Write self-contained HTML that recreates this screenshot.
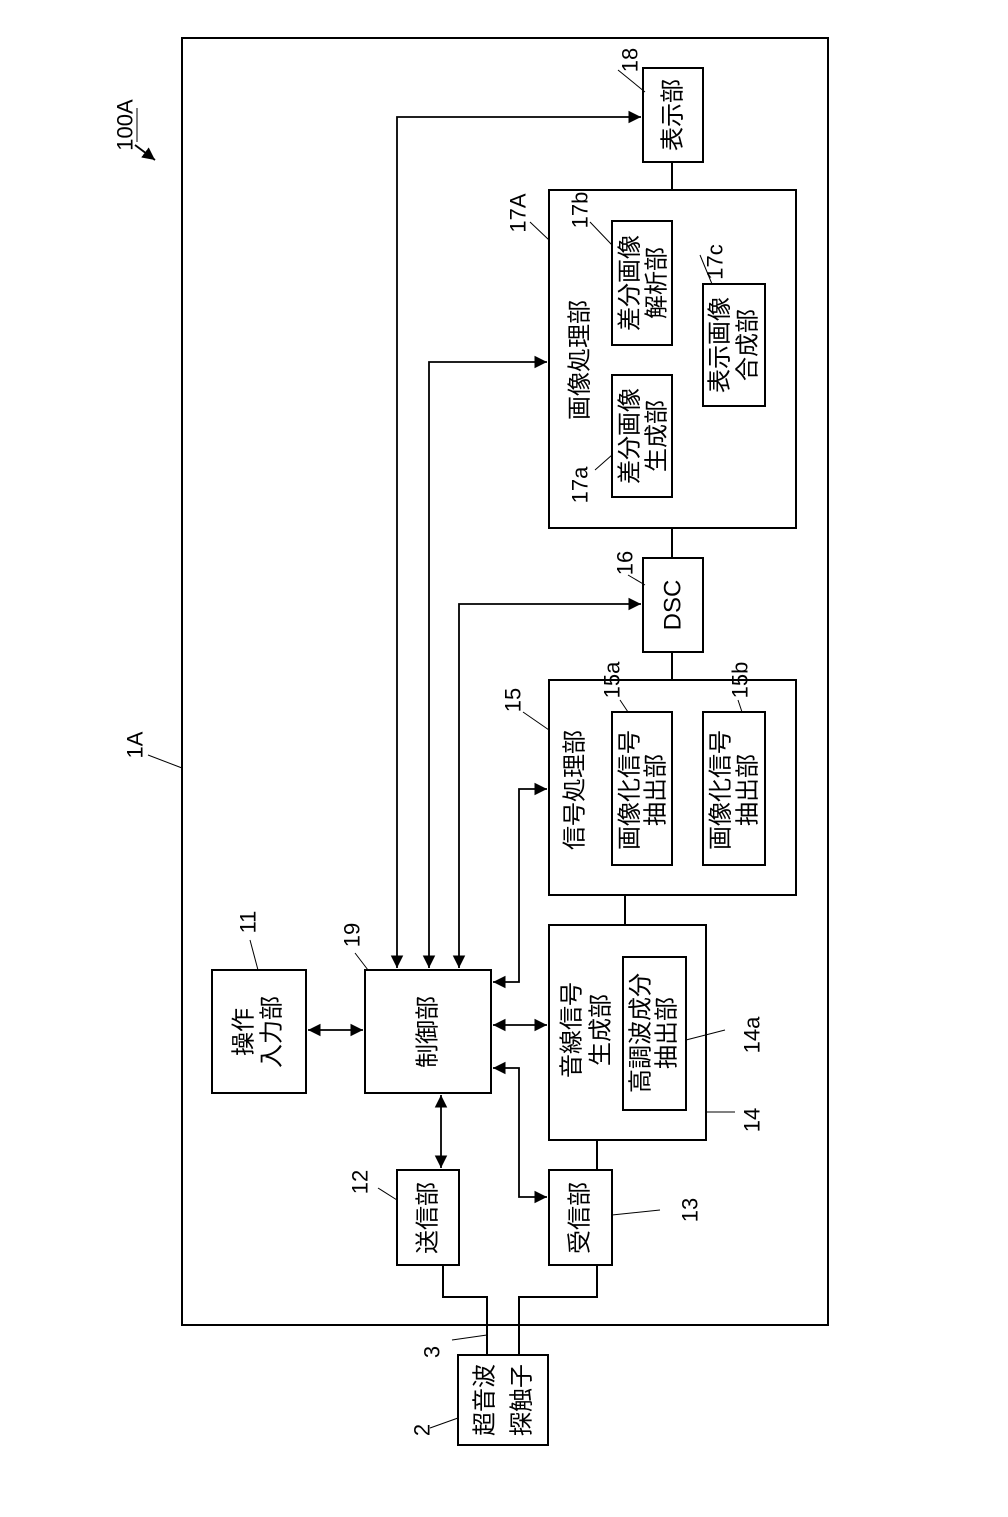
<!DOCTYPE html>
<html><head><meta charset="utf-8"><style>
html,body{margin:0;padding:0;background:#fff}
svg text{font-family:"Liberation Sans","Noto Sans CJK JP",sans-serif;fill:#000}
</style></head><body>
<svg width="1008" height="1512" viewBox="0 0 1008 1512" xmlns="http://www.w3.org/2000/svg">
<defs>
<marker id="a" viewBox="0 0 10 10" refX="10" refY="5" markerWidth="7" markerHeight="7" orient="auto-start-reverse"><path d="M0,0L10,5L0,10z" fill="#000"/></marker>
</defs>
<g fill="none" stroke="#000" stroke-width="2">
<rect x="182" y="38" width="646" height="1287"/>
<rect x="643" y="68" width="60" height="94"/>
<rect x="549" y="190" width="247" height="338"/>
<rect x="612" y="375" width="60" height="122"/>
<rect x="612" y="221" width="60" height="124"/>
<rect x="703" y="284" width="62" height="122"/>
<rect x="643" y="558" width="60" height="94"/>
<rect x="549" y="680" width="247" height="215"/>
<rect x="612" y="712" width="60" height="153"/>
<rect x="703" y="712" width="62" height="153"/>
<rect x="549" y="925" width="157" height="215"/>
<rect x="623" y="957" width="63" height="153"/>
<rect x="212" y="970" width="94" height="123"/>
<rect x="365" y="970" width="126" height="123"/>
<rect x="397" y="1170" width="62" height="95"/>
<rect x="549" y="1170" width="63" height="95"/>
<rect x="458" y="1355" width="90" height="90"/>
<path d="M487,1355V1297H443V1265M519,1355V1297H597V1265"/>
<path d="M597,1140V1170M625,895V925M672,652V680M672,528V558M672,162V190"/>
</g>
<g fill="none" stroke="#000" stroke-width="1.8">
<path d="M397,968V117H641" marker-start="url(#a)" marker-end="url(#a)"/>
<path d="M429,968V362H547" marker-start="url(#a)" marker-end="url(#a)"/>
<path d="M459,968V604H641" marker-start="url(#a)" marker-end="url(#a)"/>
<path d="M493,982H519V789H547" marker-start="url(#a)" marker-end="url(#a)"/>
<path d="M493,1025H547" marker-start="url(#a)" marker-end="url(#a)"/>
<path d="M493,1068H519V1197H547" marker-start="url(#a)" marker-end="url(#a)"/>
<path d="M441,1095V1168" marker-start="url(#a)" marker-end="url(#a)"/>
<path d="M308,1030H363" marker-start="url(#a)" marker-end="url(#a)"/>
<path d="M135,145L155,160" marker-end="url(#a)"/>
</g>
<g stroke="#000" stroke-width="1" fill="none">
<path d="M148,755L182,768M618,70L645,92M530,222L549,240M590,222L612,245M700,255L712,284M595,470L612,455M628,575L645,585M620,700L628,712M738,700L742,712M523,712L549,730M355,953L368,970M250,940L258,970M706,1112L735,1112M725,1030L686,1040M378,1188L397,1200M660,1210L612,1215M452,1340L487,1335M430,1428L458,1418"/>
<path d="M137,108V142"/>
</g>
<g font-size="22">
<g text-anchor="middle" dominant-baseline="central">
<text transform="translate(125,125) rotate(-90)">100A</text>
<text transform="translate(135,745) rotate(-90)">1A</text>
<text transform="translate(630,60) rotate(-90)">18</text>
<text transform="translate(518,213) rotate(-90)">17A</text>
<text transform="translate(580,210) rotate(-90)">17b</text>
<text transform="translate(715,262) rotate(-90)">17c</text>
<text transform="translate(580,485) rotate(-90)">17a</text>
<text transform="translate(625,563) rotate(-90)">16</text>
<text transform="translate(612,680) rotate(-90)">15a</text>
<text transform="translate(740,680) rotate(-90)">15b</text>
<text transform="translate(513,700) rotate(-90)">15</text>
<text transform="translate(352,935) rotate(-90)">19</text>
<text transform="translate(248,922) rotate(-90)">11</text>
<text transform="translate(752,1120) rotate(-90)">14</text>
<text transform="translate(752,1035) rotate(-90)">14a</text>
<text transform="translate(360,1182) rotate(-90)">12</text>
<text transform="translate(690,1210) rotate(-90)">13</text>
<text transform="translate(432,1352) rotate(-90)">3</text>
<text transform="translate(422,1430) rotate(-90)">2</text>
</g>
<g text-anchor="middle" dominant-baseline="central" font-size="24">
<text transform="translate(673,115) rotate(-90)">表示部</text>
<text transform="translate(580,360) rotate(-90)">画像処理部</text>
<text transform="translate(630,436) rotate(-90)">差分画像</text>
<text transform="translate(657,436) rotate(-90)">生成部</text>
<text transform="translate(630,283) rotate(-90)">差分画像</text>
<text transform="translate(657,283) rotate(-90)">解析部</text>
<text transform="translate(720,345) rotate(-90)">表示画像</text>
<text transform="translate(748,345) rotate(-90)">合成部</text>
<text transform="translate(673,605) rotate(-90)">DSC</text>
<text transform="translate(575,790) rotate(-90)">信号処理部</text>
<text transform="translate(630,790) rotate(-90)">画像化信号</text>
<text transform="translate(656,790) rotate(-90)">抽出部</text>
<text transform="translate(721,790) rotate(-90)">画像化信号</text>
<text transform="translate(748,790) rotate(-90)">抽出部</text>
<text transform="translate(572,1030) rotate(-90)">音線信号</text>
<text transform="translate(601,1030) rotate(-90)">生成部</text>
<text transform="translate(641,1033) rotate(-90)">高調波成分</text>
<text transform="translate(667,1033) rotate(-90)">抽出部</text>
<text transform="translate(428,1032) rotate(-90)">制御部</text>
<text transform="translate(244,1032) rotate(-90)">操作</text>
<text transform="translate(272,1032) rotate(-90)">入力部</text>
<text transform="translate(428,1218) rotate(-90)">送信部</text>
<text transform="translate(580,1218) rotate(-90)">受信部</text>
<text transform="translate(485,1400) rotate(-90)">超音波</text>
<text transform="translate(522,1400) rotate(-90)">探触子</text>
</g>
</g>
</svg>
</body></html>
